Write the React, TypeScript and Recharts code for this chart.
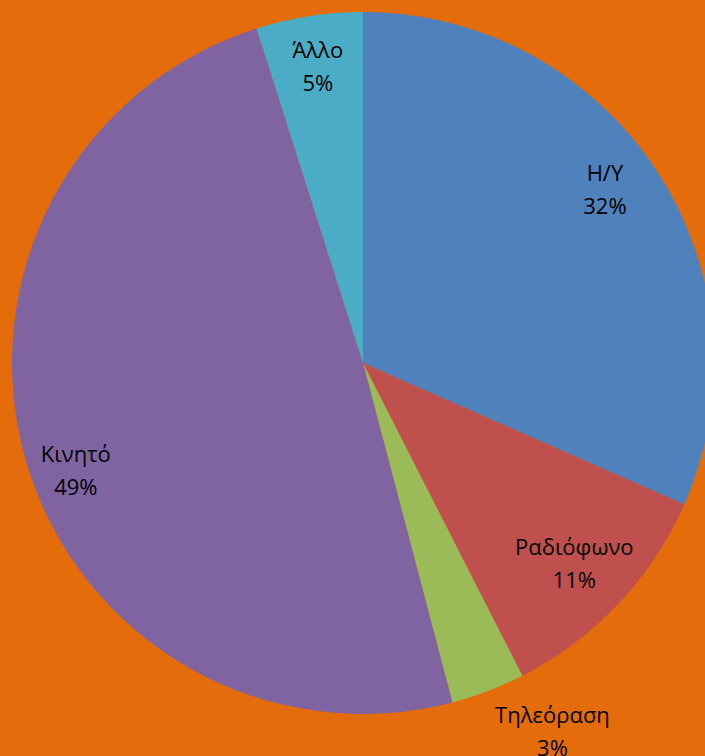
import { Cell, Pie, PieChart } from 'recharts';

const categories = ['Η/Υ', 'Ραδιόφωνο', 'Τηλεόραση', 'Κινητό', 'Άλλο'];
const shares = [31.6, 10.9, 3.4, 49.2, 4.9];
const colors = ['#4F81BD', '#C0504D', '#9BBB59', '#8064A2', '#4BACC6'];

const chartData = categories.map((name, i) => ({ name, value: shares[i] }));

// small hand nudges so the labels sit where Excel's best fit put them
const labelNudge: Record<string, [number, number]> = {
  'Η/Υ': [-5, -13],
  'Ραδιόφωνο': [-3, -3],
  'Τηλεόραση': [0, -3],
  'Κινητό': [-4, 25],
  'Άλλο': [0, -6],
};

const RAD = Math.PI / 180;

interface LabelProps {
  cx: number;
  cy: number;
  midAngle: number;
  outerRadius: number;
  percent: number;
  name: string;
}

function SliceLabel({ cx, cy, midAngle, outerRadius, percent, name }: LabelProps) {
  // tiny slices go outside
  const outside = percent < 0.04;
  const r = outside ? outerRadius + 46 : outerRadius * 0.84;
  const [nx, ny] = labelNudge[name] ?? [0, 0];
  const x = cx + r * Math.cos(-midAngle * RAD) + (outside ? 48 : 0) + nx;
  const y = cy + r * Math.sin(-midAngle * RAD) + ny;
  return (
    <text x={x} y={y} textAnchor="middle" fill="#000" fontSize={22} fontFamily="'Open Sans', sans-serif">
      <tspan x={x} y={y - 8}>{name}</tspan>
      <tspan x={x} y={y + 25}>{`${Math.round(percent * 100)}%`}</tspan>
    </text>
  );
}

export default function App() {
  return (
    <div style={{ position: 'absolute', left: 0, top: 0, width: 705, height: 756, background: '#E46C0A', overflow: 'hidden' }}>
      <PieChart width={705} height={756} margin={{ top: 0, right: 0, bottom: 0, left: 0 }}>
        <Pie
          data={chartData}
          dataKey="value"
          nameKey="name"
          cx={363}
          cy={363}
          outerRadius={351}
          startAngle={90}
          endAngle={-270}
          stroke="none"
          labelLine={false}
          label={SliceLabel}
          isAnimationActive={false}
        >
          {chartData.map((entry, i) => (
            <Cell key={entry.name} fill={colors[i]} />
          ))}
        </Pie>
      </PieChart>
    </div>
  );
}
